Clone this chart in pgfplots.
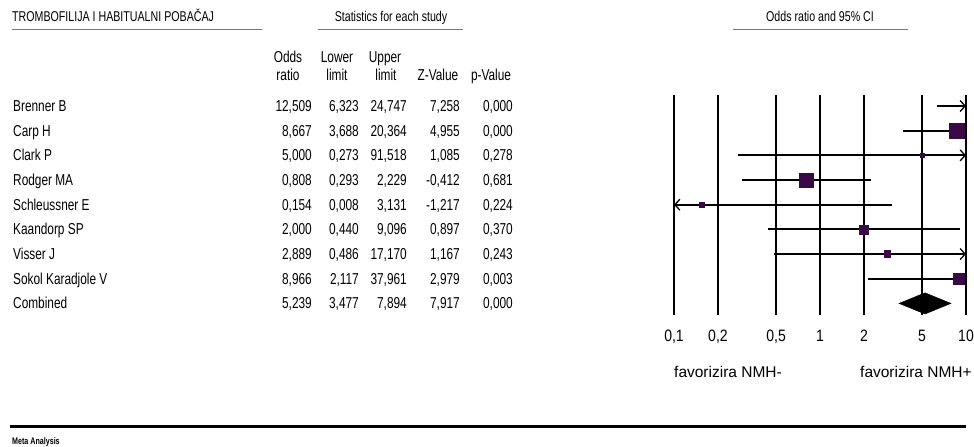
\documentclass[border=0pt]{standalone}
\usepackage{pgfplots}
\pgfplotsset{compat=1.18}
\usepackage{fontspec}
\usetikzlibrary{arrows.meta}
\setmainfont{Liberation Sans}
\newfontfamily\narrow{Liberation Sans}[FakeStretch=0.75]
\newfontfamily\tickfont{Liberation Sans}[FakeStretch=0.85]
\definecolor{sq}{RGB}{58,10,70}
\definecolor{rule}{RGB}{120,120,120}

% row y = -(study number); odds ratio, lower, upper limit
% CI lines beyond 0,1 or 10 are cut at the axis edge and get an arrow
\begin{document}
\begin{tikzpicture}
\useasboundingbox (0,0) rectangle (974bp,447bp);

\begin{axis}[
  at={(674bp,132bp)}, anchor=south west,
  scale only axis, width=292bp, height=220bp,
  xmode=log, xmin=0.1, xmax=10,
  ymin=-9.47, ymax=-0.554,
  axis line style={draw=none},
  major tick length=0pt,
  ytick=\empty,
  xtick={0.1,0.2,0.5,1,2,5,10},
  xticklabels={{0,1},{0,2},{0,5},1,2,5,10},
  xticklabel style={font=\tickfont\fontsize{16.5bp}{18bp}\selectfont, anchor=base, yshift=-27bp},
  xmajorgrids,
  grid style={black, line width=1.2bp},
  clip marker paths=true,
  ci/.style={black, line width=2bp, no marks},
  tip/.style={ci, -{Straight Barb[length=5bp,width=11bp,line width=1.3bp]}},
  tipl/.style={ci, {Straight Barb[length=5bp,width=11bp,line width=1.3bp]}-},
]
\addplot[tip]  coordinates {(6.323,-1) (10,-1)};   % upper 24,747
\addplot[ci]   coordinates {(3.688,-2) (10,-2)};   % upper 20,364
\addplot[tip]  coordinates {(0.273,-3) (10,-3)};   % upper 91,518
\addplot[ci]   coordinates {(0.293,-4) (2.229,-4)};
\addplot[tipl] coordinates {(0.1,-5) (3.131,-5)};  % lower 0,008
\addplot[ci]   coordinates {(0.440,-6) (9.096,-6)};
\addplot[tip]  coordinates {(0.486,-7) (10,-7)};   % upper 17,170
\addplot[tip]  coordinates {(2.117,-8) (10,-8)};   % upper 37,961

\addplot[only marks, mark=square*, scatter,
  scatter/use mapped color={draw=sq, fill=sq},
  visualization depends on={\thisrow{size} \as \msize},
  scatter/@pre marker code/.append style={/tikz/mark size=\msize}]
  table {
  or     row  size
  12.509 -1   8
  8.667  -2   7.6
  5.000  -3   2.3
  0.808  -4   7
  0.154  -5   2.4
  2.000  -6   4.5
  2.889  -7   3.4
  8.966  -8   5.5
  };

\addplot[fill=black, draw=black] coordinates {(3.477,-9) (5.239,-8.57) (7.894,-9) (5.239,-9.43)} --cycle;
\end{axis}

\begin{scope}[x=1bp, y=-1bp, yshift=447bp, every node/.style={inner sep=0pt}]
  \begin{scope}[font=\narrow\fontsize{14.2bp}{16bp}\selectfont]
    \node[anchor=base west] at (12,22) {TROMBOFILIJA I HABITUALNI POBAČAJ};
    \node[anchor=base] at (391,22) {Statistics for each study};
    \node[anchor=base] at (820,22) {Odds ratio and 95\% CI};
  \end{scope}
  \draw[rule, line width=1bp] (12,29.5) -- (262,29.5);
  \draw[rule, line width=1bp] (318,29.5) -- (463,29.5);
  \draw[rule, line width=1bp] (733,29.5) -- (908,29.5);

  \begin{scope}[font=\narrow\fontsize{15.8bp}{18bp}\selectfont]
    \node[anchor=base] at (288,63) {Odds};
    \node[anchor=base] at (288,81) {ratio};
    \node[anchor=base] at (337,63) {Lower};
    \node[anchor=base] at (337,81) {limit};
    \node[anchor=base] at (385,63) {Upper};
    \node[anchor=base] at (386,81) {limit};
    \node[anchor=base] at (438,81) {Z-Value};
    \node[anchor=base] at (491,81) {p-Value};

    \foreach \n/\o/\l/\u/\z/\p [count=\i from 0] in {
      {Brenner B}/{12,509}/{6,323}/{24,747}/{7,258}/{0,000},
      {Carp H}/{8,667}/{3,688}/{20,364}/{4,955}/{0,000},
      {Clark P}/{5,000}/{0,273}/{91,518}/{1,085}/{0,278},
      {Rodger MA}/{0,808}/{0,293}/{2,229}/{-0,412}/{0,681},
      {Schleussner E}/{0,154}/{0,008}/{3,131}/{-1,217}/{0,224},
      {Kaandorp SP}/{2,000}/{0,440}/{9,096}/{0,897}/{0,370},
      {Visser J}/{2,889}/{0,486}/{17,170}/{1,167}/{0,243},
      {Sokol Karadjole V}/{8,966}/{2,117}/{37,961}/{2,979}/{0,003},
      {Combined}/{5,239}/{3,477}/{7,894}/{7,917}/{0,000}} {
      \pgfmathsetmacro\yy{111.5+24.67*\i}
      \node[anchor=base west] at (13,\yy) {\n};
      \node[anchor=base east] at (312,\yy) {\o};
      \node[anchor=base east] at (359,\yy) {\l};
      \node[anchor=base east] at (407,\yy) {\u};
      \node[anchor=base east] at (460,\yy) {\z};
      \node[anchor=base east] at (513,\yy) {\p};
    }
  \end{scope}

  \begin{scope}[font=\fontsize{15.5bp}{18bp}\selectfont]
    \node[anchor=base west] at (674,378) {favorizira NMH-};
    \node[anchor=base west] at (860,378) {favorizira NMH+};
  \end{scope}

  \draw[black, line width=3bp] (10,427) -- (966,427);
  \node[anchor=base west, font=\narrow\bfseries\fontsize{9.5bp}{10bp}\selectfont] at (12,445) {Meta Analysis};
\end{scope}
\end{tikzpicture}
\end{document}
